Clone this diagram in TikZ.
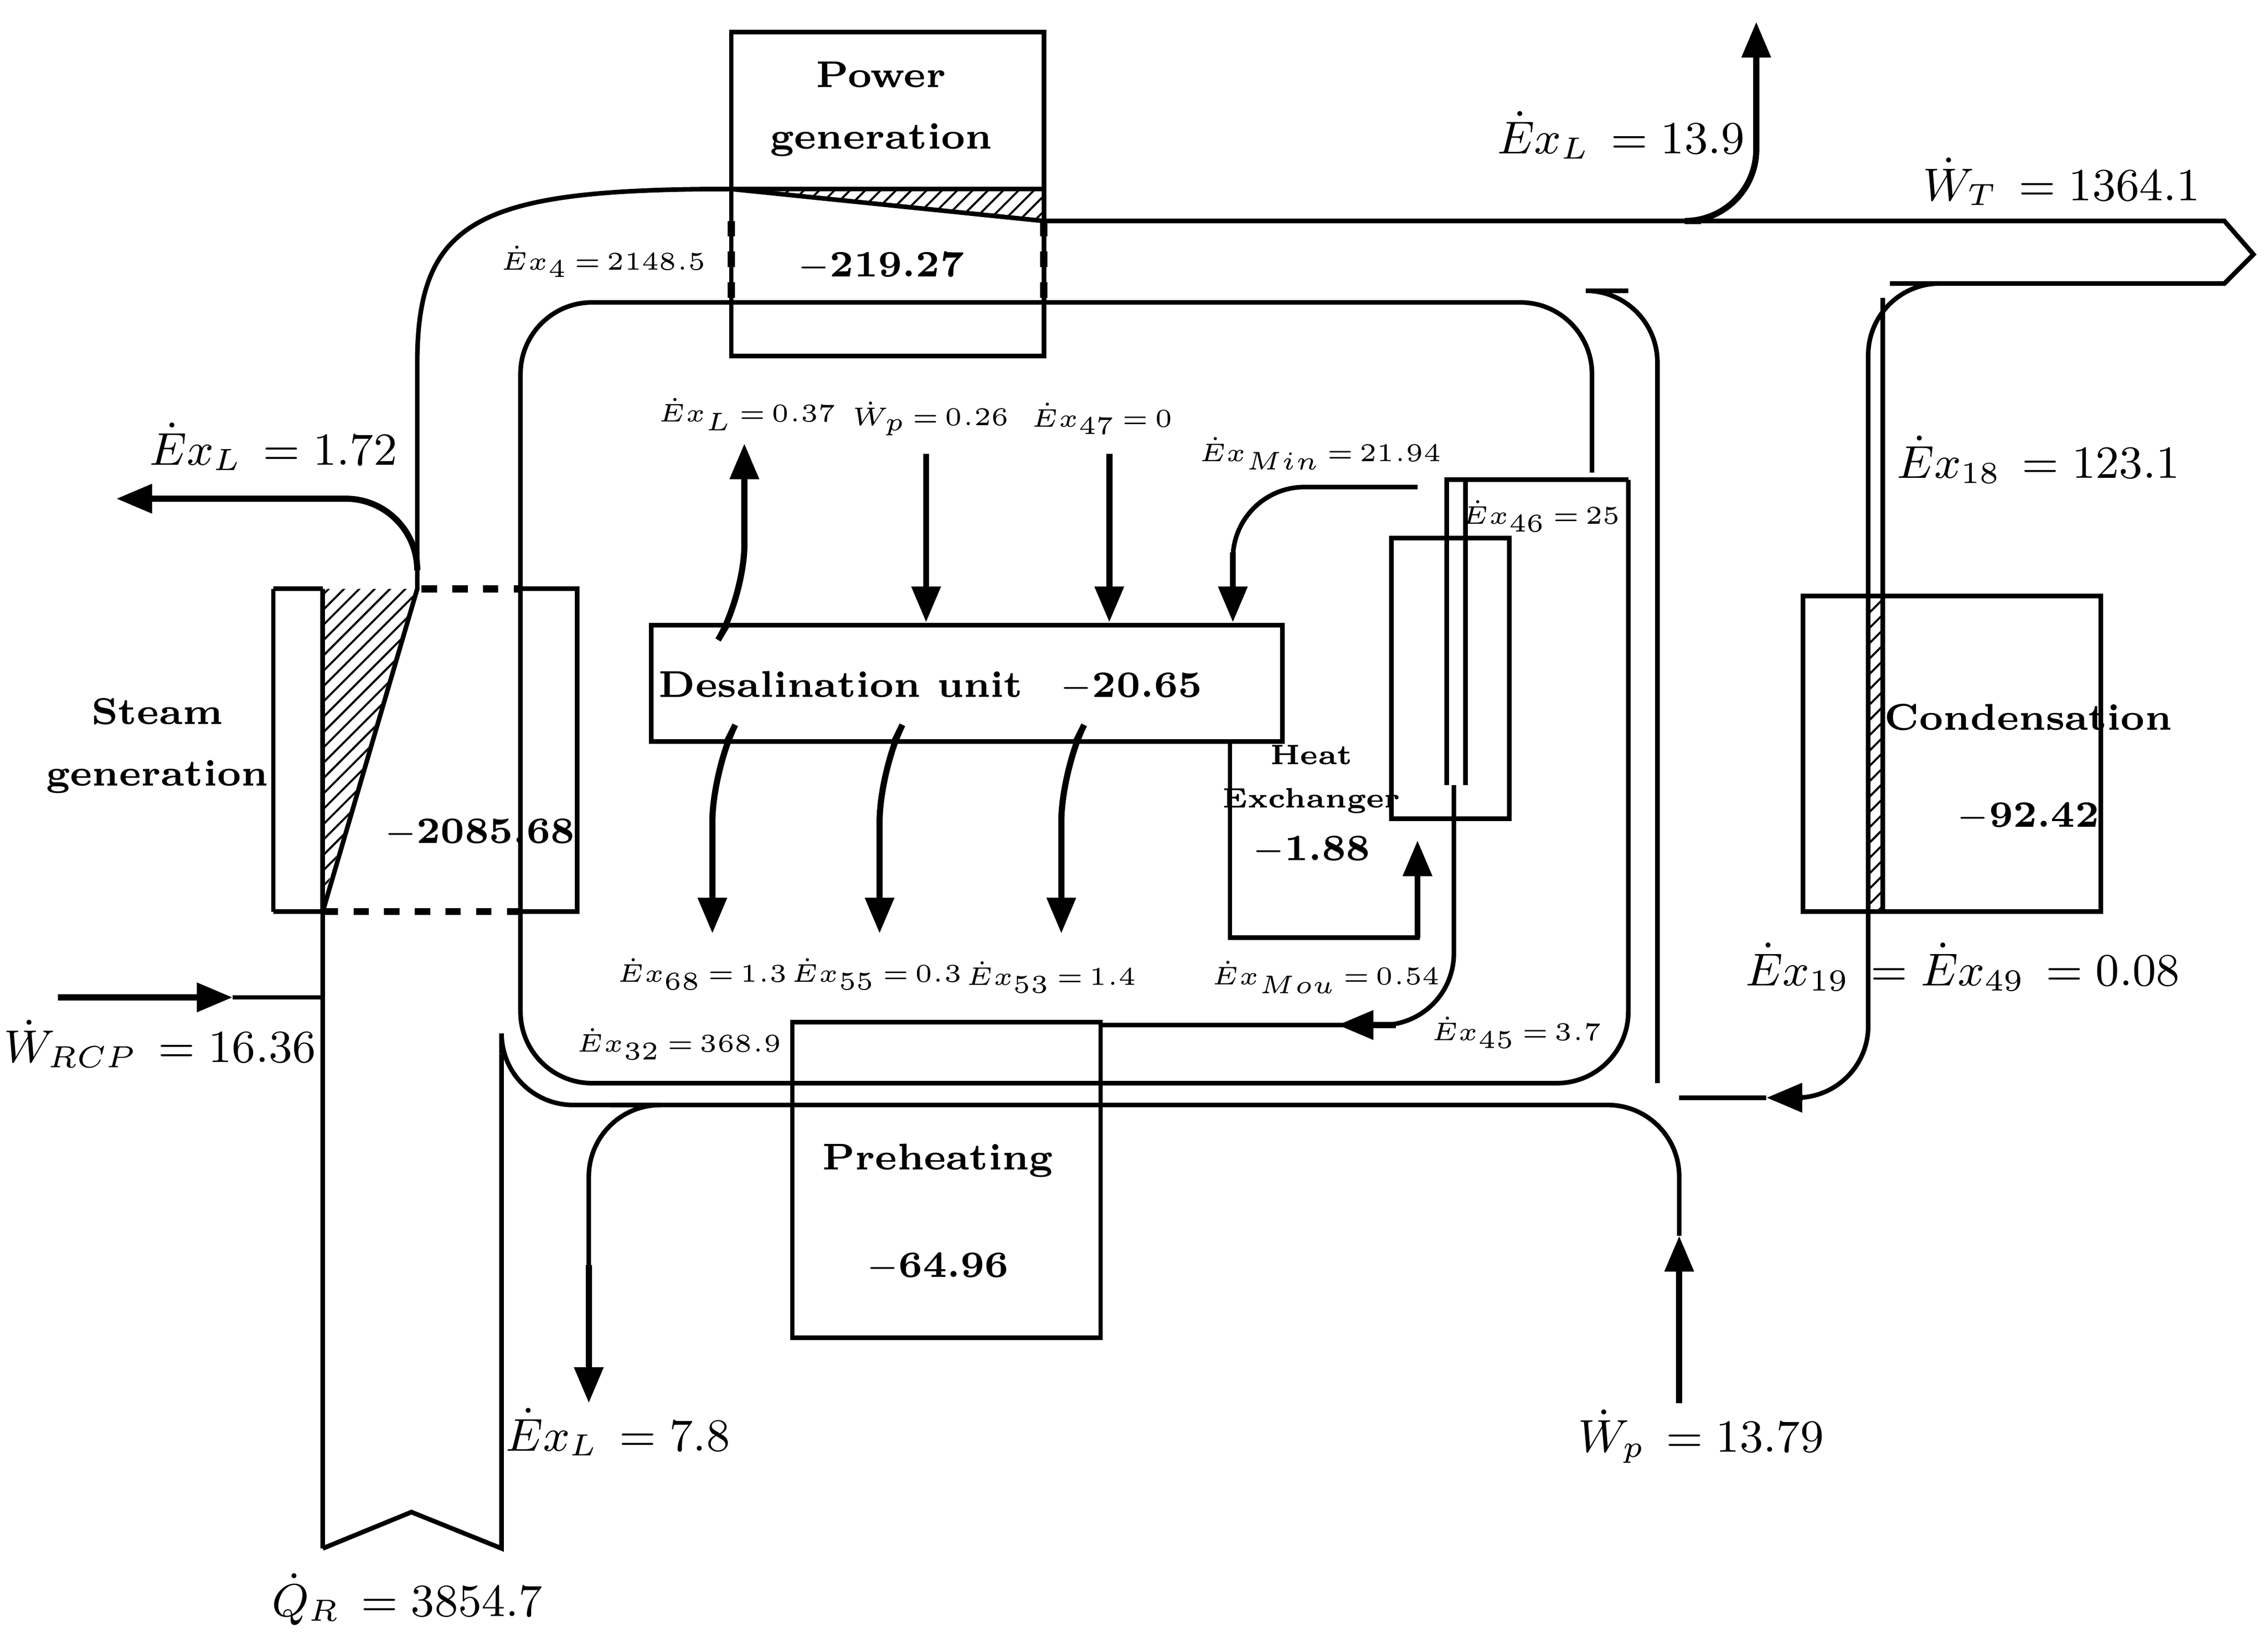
\documentclass[tikz,border=0pt]{standalone}
\usetikzlibrary{patterns,arrows.meta}
\begin{document}
\begin{tikzpicture}[x=0.01cm,y=-0.01cm,line width=0.9pt,
    flow/.style={line width=0.9pt,rounded corners=14pt},
    arr/.style={-{Triangle[length=7pt,width=5.5pt]},line width=1.2pt},
    big/.style={font=\fontsize{9}{11}\selectfont},
    small/.style={font=\fontsize{5.3}{6.5}\selectfont},
    title/.style={font=\fontsize{7.3}{9}\selectfont\bfseries,align=center}]
    \useasboundingbox (0,0) rectangle (1560,1127);

    % boxes
    \draw (503,22) rectangle (718,245);
    \draw[fill=white] (448,430) rectangle (882,510);
    \draw (545,703) rectangle (757,920);
    \draw (1240,410) rectangle (1445,627);
    \draw (957,370) rectangle (1038,563);
    \draw (188,405) -- (222,405) (188,627) -- (222,627) (188,405) -- (188,627);
    \draw (358,405) -- (397,405) -- (397,627) -- (358,627);
    \draw[dashed,line width=1.4pt] (290,405) -- (358,405) (222,627) -- (358,627);
    \draw[dashed,line width=1.4pt] (503,152) -- (503,212) (718,152) -- (718,212);

    % hatched parts
    \fill[pattern=north east lines] (222,405) -- (287,405) -- (222,620) -- cycle;
    \draw (222,405) -- (222,627);
    \fill[pattern=north east lines] (503,130) -- (718,130) -- (718,152) -- cycle;

    % main flows
    \draw (222,1065) -- (222,627) -- (287,405) -- (287,250) .. controls (287,150) and (330,130) .. (503,130) -- (718,130);
    \draw (503,130) -- (718,152) -- (1530,152) -- (1550,175) -- (1530,195) -- (1300,195);
    \draw (222,1065) -- (283,1040) -- (345,1065) -- (345,725);
    \draw[arr,rounded corners=14pt] (1170,152) -- (1208,152) -- (1208,15);
    \draw[arr,rounded corners=14pt] (287,390) -- (287,343) -- (80,343);
    \draw[arr] (40,686) -- (160,686);
    \draw (160,686) -- (222,686);

    % inner loops
    \draw[flow] (1095,325) -- (1095,208) -- (358,208) -- (358,745) -- (1120,745) -- (1120,330);
    \draw[flow] (345,725) -- (345,760) -- (1155,760) -- (1155,850);
    \draw[arr] (1155,965) -- (1155,850);
    \draw[flow] (1120,200) -- (1140,200) -- (1140,745);
    \draw[flow] (1300,195) -- (1285,195) -- (1285,755) -- (1230,755);
    \draw[arr] (1240,755) -- (1215,755);
    \draw (1215,755) -- (1155,755);
    \draw[flow] (420,760) -- (405,760) -- (405,870);
    \draw[arr] (405,870) -- (405,965);
    \draw (1295,205) -- (1295,625);
    \draw[pattern=north east lines] (1285,410) rectangle (1295,627);

    % heat exchanger
    \draw (1120,330) -- (995,330) -- (995,540);
    \draw (1008,330) -- (1008,540);
    \draw[flow] (1000,540) -- (1000,705) -- (757,705);
    \draw[arr] (960,705) -- (920,705);
    \draw[flow] (975,335) -- (848,335) -- (848,380);
    \draw[arr] (848,380) -- (848,428);
    \draw (846,510) -- (846,645) -- (975,645) -- (975,620);
    \draw[arr] (975,645) -- (975,578);

    % desalination arrows
    \foreach \x in {637,763} \draw[arr] (\x,312) -- (\x,428);
    \draw[arr,rounded corners=10pt] (500,430) -- (512,410) -- (512,305);
    \foreach \x in {490,605,730} \draw[arr,rounded corners=10pt] (\x+10,510) -- (\x,530) -- (\x,642);

    % texts
    \node[title] (power) at (606,75) {Power\\[3pt]generation};
    \node[title] (steam) at (108,513) {Steam\\[3pt]generation};
    \node[title] (desal) at (640,472) {Desalination unit\quad$-$20.65};
    \node[title] (preh) at (645,834) {Preheating\\[12pt]$-$64.96};
    \node[title] (cond) at (1395,528) {Condensation\\[10pt]$-$92.42};
    \node[title,font=\fontsize{5.5}{6.5}\selectfont\bfseries] (hx) at (902,536) {Heat\\[2pt]Exchanger};
    \node[title] (hxv) at (902,585) {$-$1.88};
    \node[title] (pwv) at (606,183) {$-$219.27};
    \node[title] (sgv) at (330,573) {$-$2085.68};

    \node[big] (qr) at (280,1100) {$\dot{Q}_R\,=3854.7$};
    \node[big] (wrcp) at (110,718) {$\dot{W}_{RCP}\,=16.36$};
    \node[big] (exl1) at (188,307) {$\dot{E}x_L\,=1.72$};
    \node[big] (exl2) at (425,985) {$\dot{E}x_L\,=7.8$};
    \node[big] (exl3) at (1115,93) {$\dot{E}x_L\,=13.9$};
    \node[big] (wt) at (1418,125) {$\dot{W}_T\,=1364.1$};
    \node[big] (ex18) at (1402,316) {$\dot{E}x_{18}\,=123.1$};
    \node[big] (ex19) at (1350,665) {$\dot{E}x_{19}\,=\dot{E}x_{49}\,=0.08$};
    \node[big] (wp) at (1170,988) {$\dot{W}_p\,=13.79$};

    \node[small] (ex4) at (415,180) {$\dot{E}x_4{\,=\,}2148.5$};
    \node[small] (exl4) at (514,285) {$\dot{E}x_L{\,=\,}0.37$};
    \node[small] (wp2) at (640,288) {$\dot{W}_p{\,=\,}0.26$};
    \node[small] (ex47) at (758,288) {$\dot{E}x_{47}{\,=\,}0$};
    \node[small] (exmin) at (908,312) {$\dot{E}x_{Min}{\,=\,}21.94$};
    \node[small] (ex46) at (1060,355) {$\dot{E}x_{46}{\,=\,}25$};
    \node[small] (ex68) at (483,670) {$\dot{E}x_{68}{\,=\,}1.3$};
    \node[small] (ex55) at (603,670) {$\dot{E}x_{55}{\,=\,}0.3$};
    \node[small] (ex53) at (723,672) {$\dot{E}x_{53}{\,=\,}1.4$};
    \node[small] (exmou) at (912,672) {$\dot{E}x_{Mou}{\,=\,}0.54$};
    \node[small] (ex45) at (1043,710) {$\dot{E}x_{45}{\,=\,}3.7$};
    \node[small] (ex32) at (467,718) {$\dot{E}x_{32}{\,=\,}368.9$};
\end{tikzpicture}
\end{document}
